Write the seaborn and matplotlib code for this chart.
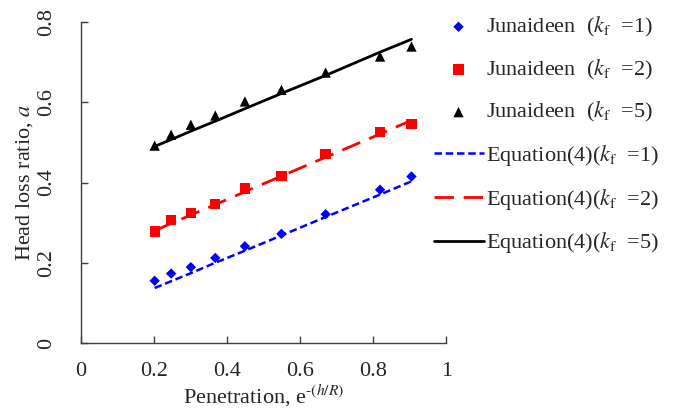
import numpy as np
import pandas as pd
import matplotlib
matplotlib.use("Agg")
import matplotlib.pyplot as plt
import seaborn as sns

sns.set_style("ticks")
plt.rcParams['font.family'] = ['Liberation Serif', 'DejaVu Serif']
plt.rcParams['mathtext.fontset'] = 'stix'

# penetration e^-(h/R)
pen = [0.202, 0.247, 0.301, 0.368, 0.449, 0.549, 0.670, 0.819, 0.905]

# Junaideen measured points
jun_k1 = [0.155, 0.173, 0.189, 0.212, 0.241, 0.272, 0.321, 0.382, 0.415]
jun_k2 = [0.278, 0.306, 0.324, 0.346, 0.385, 0.416, 0.471, 0.526, 0.546]
jun_k5 = [0.492, 0.519, 0.544, 0.567, 0.602, 0.631, 0.674, 0.714, 0.739]

# Equation (4)
eq_k1 = [0.137, 0.154, 0.174, 0.200, 0.230, 0.268, 0.314, 0.370, 0.403]
eq_k2 = [0.280, 0.298, 0.319, 0.345, 0.377, 0.416, 0.463, 0.521, 0.555]
eq_k5 = [0.490, 0.507, 0.528, 0.553, 0.584, 0.622, 0.667, 0.725, 0.757]

xticks = [0, 0.2, 0.4, 0.6, 0.8, 1]
yticks = [0, 0.2, 0.4, 0.6, 0.8]
ticklabels_x = ["0", "0.2", "0.4", "0.6", "0.8", "1"]
ticklabels_y = ["0", "0.2", "0.4", "0.6", "0.8"]

fs = 16
fig = plt.figure(figsize=(6.74, 4.12), dpi=100)
ax = fig.add_axes([0.120, 0.1675, 0.542, 0.779])

lab = r"Junaideen  ($k_{\rm f}$  =%d)"
elab = r"Equation(4)($k_{\rm f}$  =%d)"

sns.scatterplot(x=pen, y=jun_k1, color="#0000ff", marker="D", s=28, edgecolor="none", ax=ax, label=lab % 1, zorder=3)
sns.scatterplot(x=pen, y=jun_k2, color="#ff0000", marker="s", s=55, edgecolor="none", ax=ax, label=lab % 2, zorder=3)
sns.scatterplot(x=pen, y=jun_k5, color="black", marker="^", s=55, edgecolor="none", ax=ax, label=lab % 5, zorder=3)

sns.lineplot(x=pen, y=eq_k1, color="#0000ff", lw=1.8, linestyle=(0, (3, 1.5)), ax=ax, label=elab % 1)
sns.lineplot(x=pen, y=eq_k2, color="#ff0000", lw=2, linestyle=(0, (7, 3.5)), ax=ax, label=elab % 2)
sns.lineplot(x=pen, y=eq_k5, color="black", lw=2, ax=ax, label=elab % 5)

ax.set_xlim(0, 1)
ax.set_ylim(0, 0.8)
ax.set_xticks(xticks)
ax.set_xticklabels(ticklabels_x, fontsize=fs, color="#262626")
ax.set_yticks(yticks)
ax.set_yticklabels(ticklabels_y, fontsize=fs, rotation=90, va="center", color="#262626")
ax.tick_params(direction="in", length=5, width=1, color="#404040")
ax.tick_params(axis="x", pad=14)
ax.tick_params(axis="y", pad=18)
for s in ["top", "right"]:
    ax.spines[s].set_visible(False)
for s in ["left", "bottom"]:
    ax.spines[s].set_color("#404040")
    ax.spines[s].set_linewidth(1)

ax.set_xlabel(r"Penetration, e$^{\mathrm{\text{-}}(h/R)}$", fontsize=fs, labelpad=1, color="#262626")
ax.set_ylabel(r"Head loss ratio, $a$", fontsize=fs, labelpad=1, color="#262626")

h, l = ax.get_legend_handles_labels()
ax.get_legend().remove()
fig.legend(h, l, loc="upper left", bbox_to_anchor=(0.630, 0.985), frameon=False,
           fontsize=fs, handlelength=2.25, handletextpad=0.1, labelspacing=0.84,
           borderaxespad=0, labelcolor="#262626")

fig.savefig("out.png", dpi=100, facecolor="white")
